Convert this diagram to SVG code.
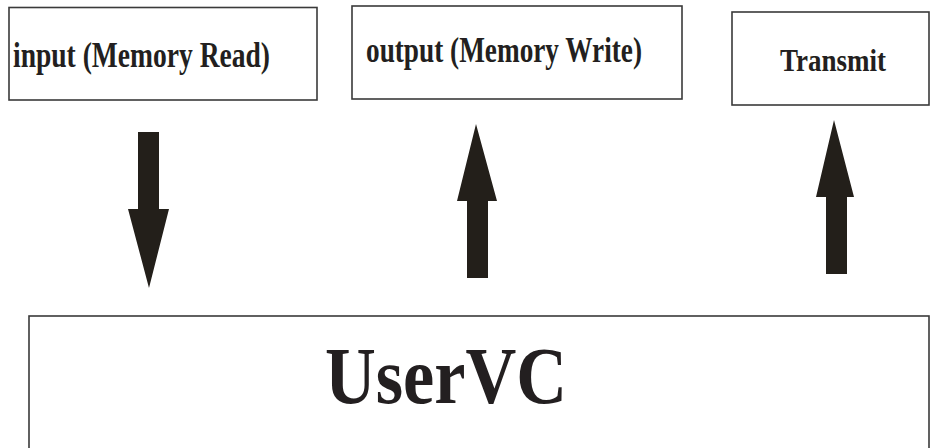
<svg xmlns="http://www.w3.org/2000/svg" width="931" height="448" viewBox="0 0 931 448">
<style>
.box{fill:#fff;stroke:#3a3a3a;stroke-width:1.6}
.lbl{font-family:"Liberation Serif","Times New Roman",serif;font-weight:bold;fill:#231f20}
.arr{fill:#231f1a}
</style>
<rect width="931" height="448" fill="#fff"/>
<g id="input">
<rect class="box" x="9" y="7.5" width="308" height="92.5"/>
<text class="lbl" x="13" y="67" font-size="35" textLength="257" lengthAdjust="spacingAndGlyphs">input (Memory Read)</text>
</g>
<g id="output">
<rect class="box" x="352" y="6" width="330" height="93"/>
<text class="lbl" x="366" y="62" font-size="35" textLength="276" lengthAdjust="spacingAndGlyphs">output (Memory Write)</text>
</g>
<g id="transmit">
<rect class="box" x="732" y="12" width="197" height="93"/>
<text class="lbl" x="780" y="71" font-size="32" textLength="106" lengthAdjust="spacingAndGlyphs">Transmit</text>
</g>
<g id="uservc">
<rect class="box" x="29" y="316" width="900" height="140"/>
<text class="lbl" x="325" y="403" font-size="80" textLength="242" lengthAdjust="spacingAndGlyphs">UserVC</text>
</g>
<g id="connectors">
<polygon class="arr" points="138,132 159,132 159,209 169,209 149,288 128,209 138,209"/>
<polygon class="arr" points="476,124 497,201 488,201 488,278 467,278 467,201 457,201"/>
<polygon class="arr" points="834,120 854,197 847,197 847,274 826,274 826,197 816,197"/>
</g>
</svg>
